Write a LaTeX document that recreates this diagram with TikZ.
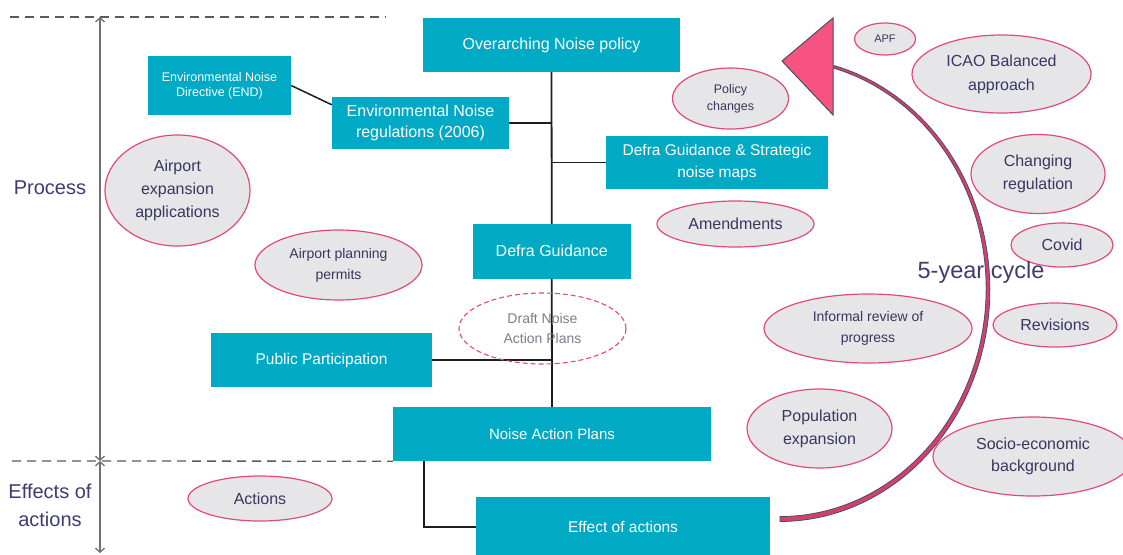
\documentclass[tikz,border=0pt]{standalone}
\usepackage{fontspec}
\setmainfont{Liberation Sans}
\usetikzlibrary{shapes.geometric,arrows.meta,calc}

\definecolor{boxteal}{RGB}{0,170,196}
\definecolor{bubblefill}{RGB}{230,230,232}
\definecolor{bubbleedge}{RGB}{226,74,122}
\definecolor{bubbletext}{RGB}{55,55,95}
\definecolor{sidenavy}{RGB}{62,62,110}
\definecolor{drafttext}{RGB}{125,125,140}
\definecolor{axisgray}{RGB}{112,112,112}
\definecolor{dashgray}{RGB}{90,90,90}
\definecolor{linkblack}{RGB}{30,30,30}
\definecolor{arcpink}{RGB}{214,62,114}
\definecolor{tripink}{RGB}{246,82,130}
\definecolor{arcedge}{RGB}{70,80,95}

\newcommand\setfs[2]{\fontsize{#1}{#2}\selectfont}

\begin{document}
\begin{tikzpicture}[x=1pt,y=-1pt,
  box/.style={rectangle, fill=boxteal, text=white, inner sep=0pt, align=center},
  bubble/.style={ellipse, fill=bubblefill, draw=bubbleedge, line width=1.2pt,
                 text=bubbletext, inner sep=0pt, align=center},
  link/.style={line width=1.8pt, draw=linkblack},
  divider/.style={line width=1.3pt, draw=dashgray, dash pattern=on 9pt off 6pt},
  axis/.style={line width=1.3pt, draw=axisgray, {Straight Barb[length=4pt,width=9pt]}-{Straight Barb[length=4pt,width=9pt]}},
  sidelabel/.style={text=sidenavy, align=center, font=\setfs{20}{28}}]

\useasboundingbox (0,0) rectangle (1123,554);
\clip (0,0) rectangle (1123,554);
\fill[white] (0,0) rectangle (1123,554);

% section dividers and the process / effects axis
\coordinate (divtopL) at (10,17);
\coordinate (divtopR) at (386,17);
\coordinate (divmidL) at (12,461);
\coordinate (axtop) at (100,17);
\coordinate (axmid) at (100,461);
\coordinate (axbot) at (100,553);
\draw[divider] (divtopL) -- (divtopR);
\draw[axis] (axtop) -- (axmid);
\draw[axis] (axmid) -- (axbot);
\node[sidelabel] (process) at (50,188) {Process};
\node[sidelabel] (effects) at (50,505) {Effects of\\actions};

% teal boxes of the noise policy chain
\node[box, minimum width=257pt, minimum height=54pt, font=\setfs{16}{21}] (over) at (551.5,45) {Overarching Noise policy};
\node[box, minimum width=143pt, minimum height=59pt, font=\setfs{12.5}{15}] (end) at (219.5,85.5) {Environmental Noise\\Directive (END)};
\node[box, minimum width=177pt, minimum height=52pt, font=\setfs{16}{21}] (reg) at (420.5,123) {Environmental Noise\\regulations (2006)};
\node[box, minimum width=222pt, minimum height=53pt, font=\setfs{15.5}{21.5}] (dgs) at (717,162.5) {Defra Guidance \& Strategic\\noise maps};
\node[box, minimum width=158.5pt, minimum height=54.5pt, font=\setfs{16}{21}] (dg) at (551.75,251.25) {Defra Guidance};
\node[box, minimum width=221pt, minimum height=54pt, font=\setfs{15.5}{21}] (pp) at (321.5,360) {Public Participation};
\node[box, minimum width=318pt, minimum height=54pt, font=\setfs{15}{21}] (nap) at (552,434) {Noise Action Plans};
\node[box, minimum width=294pt, minimum height=60pt, font=\setfs{15.5}{21}] (eff) at (623,527) {Effect of actions};

\draw[divider] (divmidL) -- (nap.south west);

% connectors
\draw[link] (over.south) -- (dg.north);
\draw[link] (dg.south) -- (nap.north);
\draw[link] (reg.east) -- (reg.east -| over.south);
\draw[link] (dgs.west) -- (dgs.west -| over.south);
\draw[link] (pp.east) -- (pp.east -| over.south);
\draw[link, line width=1.5pt] (end.east) -- ($(reg.north west)+(0,8)$);
\draw[link] ($(nap.south west)+(31,0)$) |- (eff.west);

% draft stage
\node[ellipse, draw=bubbleedge, dashed, dash pattern=on 5pt off 3pt, line width=1.1pt,
      minimum width=167pt, minimum height=71pt, inner sep=0pt, align=center,
      text=drafttext, font=\setfs{14}{20}] (draft) at (542.5,328.5) {Draft Noise\\Action Plans};

% influencing factors
\node[bubble, minimum width=145pt, minimum height=111pt, font=\setfs{16}{23}] (aea) at (177.5,190.5) {Airport\\expansion\\applications};
\node[bubble, minimum width=167pt, minimum height=70pt, font=\setfs{14}{21}] (app) at (338.5,265) {Airport planning\\permits};
\node[bubble, minimum width=116pt, minimum height=61pt, font=\setfs{12.5}{17}] (pol) at (730.5,98.5) {Policy\\changes};
\node[bubble, minimum width=157pt, minimum height=46pt, font=\setfs{16}{21}] (amd) at (735.5,224) {Amendments};
\node[bubble, minimum width=61pt, minimum height=32pt, font=\setfs{11}{14}] (apf) at (885,39) {APF};
\node[bubble, minimum width=179pt, minimum height=78pt, font=\setfs{16}{24}] (icao) at (1001.5,74) {ICAO Balanced\\approach};
\node[bubble, minimum width=134pt, minimum height=79pt, font=\setfs{16}{23}] (chg) at (1038,174) {Changing\\regulation};
\node[bubble, minimum width=102pt, minimum height=44pt, font=\setfs{16}{21}] (covid) at (1062,245) {Covid};
\node[bubble, minimum width=208pt, minimum height=69pt, font=\setfs{14}{21}] (irp) at (868,328.5) {Informal review of\\progress};
\node[bubble, minimum width=124pt, minimum height=44pt, font=\setfs{16}{21}] (rev) at (1055,325) {Revisions};
\node[bubble, minimum width=145pt, minimum height=79pt, font=\setfs{16}{23}] (pop) at (819.5,428.5) {Population\\expansion};
\node[bubble, minimum width=200pt, minimum height=79pt, font=\setfs{16}{22}] (soc) at (1033,456.5) {Socio-economic\\background};
\node[bubble, minimum width=144pt, minimum height=45pt, font=\setfs{16}{21}] (act) at (260,498.5) {Actions};

% the review cycle: a tapered band along an elliptic arc, ending in a wide head
\node[text=sidenavy, font=\setfs{23.5}{28}] (cycle) at (981,272) {5-year cycle};
\filldraw[fill=arcpink, draw=arcedge, line width=0.8pt, line join=round]
  plot[domain=90:-75, samples=90, smooth]
    ({780+(208+1.3+1.2*(\x+75)/165)*cos(\x)},{289+(230+1.3+1.2*(\x+75)/165)*sin(\x)})
  -- plot[domain=-75:90, samples=90, smooth]
    ({780+(208-1.3-1.2*(\x+75)/165)*cos(\x)},{289+(230-1.3-1.2*(\x+75)/165)*sin(\x)})
  -- cycle;
\coordinate (tritop) at (833,18);
\coordinate (tritip) at (782,61);
\coordinate (tribot) at (833,115);
\filldraw[fill=tripink, draw=arcedge, line width=1pt, line join=miter]
     (tritop) -- (tritip) -- (tribot) -- cycle;

\end{tikzpicture}
\end{document}
